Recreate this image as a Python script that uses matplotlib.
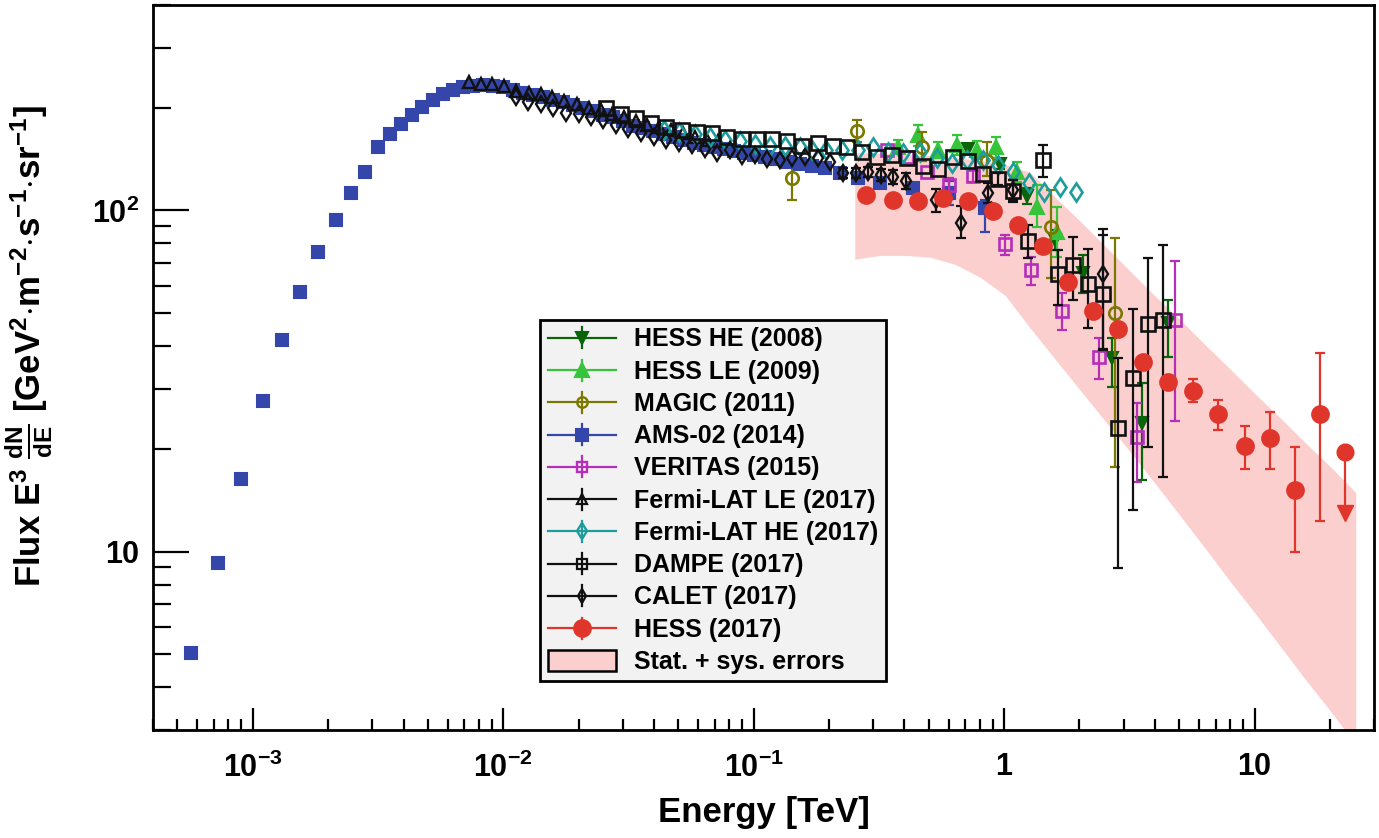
import numpy as np
import matplotlib
matplotlib.use('Agg')
import matplotlib.pyplot as plt
from matplotlib.lines import Line2D
from matplotlib.patches import Patch
from matplotlib.legend_handler import HandlerBase
from matplotlib.ticker import LogLocator, NullFormatter, FixedLocator, FixedFormatter

plt.rcParams['font.family'] = ['Liberation Sans', 'DejaVu Sans']
plt.rcParams['font.weight'] = 'bold'
plt.rcParams['mathtext.fontset'] = 'custom'
plt.rcParams['mathtext.rm'] = 'Liberation Sans:bold'
plt.rcParams['mathtext.it'] = 'Liberation Sans:bold'
plt.rcParams['mathtext.bf'] = 'Liberation Sans:bold'
plt.rcParams['mathtext.sf'] = 'Liberation Sans:bold'
plt.rcParams['mathtext.default'] = 'rm'

# ---------------- data (E in TeV, flux E^3 dN/dE in GeV^2 m^-2 s^-1 sr^-1) ----------------
x_ticks = [1e-3, 1e-2, 1e-1, 1, 10]
x_tick_labels = [r'$10^{-3}$', r'$10^{-2}$', r'$10^{-1}$', '1', '10']
y_ticks = [10, 100]
y_tick_labels = ['10', r'$10^{2}$']

band_E = [0.2535, 0.3192, 0.4018, 0.5058, 0.6368, 0.8017, 1.009, 1.271, 1.600, 2.014, 2.535,
          3.192, 4.018, 5.058, 6.368, 8.017, 10.09, 12.71, 16.00, 20.14, 25.35]
band_hi = [147.8, 146.8, 145.8, 144.9, 142.9, 140.1, 136.3, 129.2, 109.2, 92.9, 78.5,
           66.3, 56.0, 47.7, 40.3, 34.2, 28.9, 24.6, 20.8, 17.7, 14.9]
band_lo = [71.9, 73.8, 73.8, 72.9, 69.5, 63.7, 56.4, 45.2, 36.6, 29.7, 24.1,
           19.6, 15.8, 12.7, 10.2, 8.15, 6.57, 5.26, 4.21, 3.40, 2.72]

ams_E = [5.65e-4, 7.24e-4, 8.95e-4, 1.096e-3, 1.306e-3, 1.542e-3, 1.82e-3, 2.142e-3, 2.459e-3,
         2.812e-3, 3.153e-3, 3.522e-3, 3.918e-3, 4.312e-3, 4.754e-3, 5.248e-3, 5.77e-3, 6.31e-3,
         6.92e-3, 7.59e-3, 8.32e-3, 9.12e-3, 1.0e-2, 1.096e-2, 1.202e-2, 1.318e-2, 1.445e-2,
         1.585e-2, 1.738e-2, 1.905e-2, 2.089e-2, 2.291e-2, 2.512e-2, 2.754e-2, 3.02e-2, 3.311e-2,
         3.631e-2, 3.981e-2, 4.365e-2, 4.786e-2, 5.248e-2, 5.754e-2, 6.31e-2, 6.918e-2, 7.586e-2,
         8.318e-2, 9.12e-2, 0.1, 0.1107, 0.1225, 0.1368, 0.1528, 0.1706, 0.1923, 0.2208, 0.2606,
         0.3192, 0.4325, 0.6026, 0.8395]
ams_F = [5.05, 9.27, 16.3, 27.6, 41.7, 57.5, 75.4, 94.0, 112.7, 129.2, 152.9, 167.2, 179.4, 190.9,
         201.5, 211.3, 219.6, 225.6, 229.2, 232.1, 233.7, 232.1, 229.2, 226.0, 221.5, 218.5, 215.6,
         211.3, 207.1, 203.0, 198.9, 194.9, 190.9, 187.2, 182.2, 177.3, 173.8, 170.3, 166.9, 163.6,
         160.3, 157.1, 155.0, 152.9, 150.8, 148.8, 146.8, 144.9, 142.9, 141.0, 138.2, 136.3, 134.5,
         132.7, 128.3, 124.1, 120.0, 116.0, 112.1, 101.4]
ams_err_E = [0.6026, 0.8395]
ams_err_F = [112.1, 101.4]
ams_err_lo = [103.4, 86.2]
ams_err_hi = [121.6, 107.0]

fermi_le_E = [7.31e-3, 8.17e-3, 9.04e-3, 1.009e-2, 1.127e-2, 1.271e-2, 1.419e-2, 1.570e-2,
              1.754e-2, 1.977e-2, 2.208e-2, 2.466e-2, 2.729e-2, 3.048e-2, 3.404e-2, 3.767e-2,
              4.207e-2, 4.699e-2, 5.200e-2, 5.808e-2, 6.486e-2, 7.178e-2]
fermi_le_F = [238.5, 235.3, 235.3, 230.7, 224.5, 221.5, 220.0, 215.6, 209.8, 205.6, 200.2,
              196.2, 192.2, 187.2, 182.2, 178.5, 175.0, 171.5, 168.0, 164.6, 161.3, 159.2]

calet_E = [1.127e-2, 1.259e-2, 1.419e-2, 1.585e-2, 1.786e-2, 2.014e-2, 2.249e-2, 2.512e-2,
           2.831e-2, 3.162e-2, 3.565e-2, 4.018e-2, 4.487e-2, 5.012e-2, 5.649e-2, 6.368e-2,
           7.112e-2, 8.017e-2, 8.954e-2, 0.1009, 0.1127, 0.1271, 0.1419, 0.16, 0.1803, 0.2014,
           0.227, 0.2559, 0.2858, 0.3221, 0.3597, 0.4055, 0.5346, 0.673, 0.863, 1.086, 2.489]
calet_F = [215.6, 208.4, 205.6, 198.9, 193.5, 192.2, 188.4, 183.4, 178.5, 172.6, 168.0, 163.6,
           160.3, 157.1, 155.0, 151.8, 146.8, 149.8, 143.9, 144.9, 141.0, 140.1, 142.0, 142.9,
           142.0, 138.2, 128.3, 128.3, 129.2, 126.6, 124.9, 121.6, 107.0, 91.6, 112.1, 114.4, 65.0]
calet_lo = [None] * 26 + [124.1, 124.1, 124.9, 121.6, 119.2, 115.2, 98.7, 82.8, 104.8, 107.0, 38.9]
calet_hi = [None] * 26 + [132.7, 132.7, 133.6, 131.8, 130.9, 128.3, 115.2, 102.7, 120.0, 122.4, 84.5]

fermi_he_E = [4.406e-2, 5.058e-2, 5.808e-2, 6.668e-2, 7.656e-2, 8.790e-2, 0.1009, 0.1159, 0.1330,
              0.1528, 0.1706, 0.1941, 0.2249, 0.2606, 0.2992, 0.3436, 0.3945, 0.4613, 0.5395,
              0.6194, 0.7112, 0.8241, 0.9462, 1.086, 1.259, 1.445, 1.675, 1.941]
fermi_he_F = [171.5, 169.2, 166.9, 163.6, 161.3, 159.2, 156.0, 153.9, 153.9, 152.9, 149.8, 149.8,
              149.8, 149.8, 152.9, 147.8, 146.8, 147.8, 142.0, 137.3, 140.1, 140.1, 135.4, 129.2,
              120.0, 112.9, 116.8, 112.9]

dampe_E = [2.582e-2, 2.965e-2, 3.404e-2, 3.908e-2, 4.487e-2, 5.152e-2, 5.916e-2, 6.792e-2,
           7.798e-2, 8.954e-2, 0.1028, 0.1180, 0.1355, 0.1556, 0.1803, 0.2070, 0.2355, 0.2704,
           0.3105, 0.3565, 0.4093, 0.4742, 0.5445, 0.6252, 0.7178, 0.8241, 0.9462, 1.086, 1.247,
           1.432, 1.644, 1.888, 2.168, 2.489, 2.858, 3.281, 3.767, 4.325]
dampe_F = [198.9, 192.2, 185.9, 180.9, 175.0, 171.5, 169.2, 168.0, 164.6, 162.4, 162.4, 162.4,
           159.2, 153.9, 157.1, 153.9, 152.9, 147.8, 142.9, 144.9, 142.0, 134.5, 131.8, 142.9,
           139.1, 127.5, 123.2, 113.7, 81.2, 140.1, 65.0, 69.0, 60.7, 56.8, 23.0, 32.2, 46.4, 47.7]
dampe_lo = [None] * 26 + [118.4, 105.5, 72.4, 124.9, 52.7, 54.5, 45.2, 39.2, 8.96, 13.2, 20.2, 16.5]
dampe_hi = [None] * 26 + [128.3, 122.4, 90.4, 155.0, 76.4, 83.4, 76.9, 88.0, 36.9, 51.3, 72.4, 79.0]

hess_he_E = [0.7178, 0.9638, 1.236, 1.600, 2.070, 2.704, 3.565, 4.529]
hess_he_F = [150.8, 136.3, 109.9, 81.7, 65.4, 36.9, 23.8, 46.7]
hess_he_lo = [145.8, 131.8, 104.1, 76.4, 57.2, 30.3, 16.2, 37.1]
hess_he_hi = [156.0, 141.0, 116.0, 87.4, 73.8, 42.2, 31.2, 54.5]

hess_le_E = [0.3767, 0.4529, 0.5445, 0.6486, 0.7798, 0.9290, 1.127, 1.355, 1.629]
hess_le_F = [152.9, 165.8, 149.8, 155.0, 149.8, 152.9, 129.2, 102.0, 86.2]
hess_le_lo = [145.8, 153.9, 142.0, 144.9, 141.0, 142.0, 120.8, 89.2, 72.9]
hess_le_hi = [160.3, 178.5, 158.1, 165.8, 159.2, 164.6, 138.2, 118.4, 102.0]

magic_E = [0.1419, 0.2582, 0.4699, 0.8551, 1.542, 2.780]
magic_F = [124.1, 170.3, 152.9, 139.1, 89.2, 49.9]
magic_lo = [107.0, 158.1, 139.1, 125.8, 63.2, 17.7]
magic_hi = [133.6, 184.6, 169.2, 158.1, 114.4, 82.8]

veritas_E = [0.3404, 0.4093, 0.4920, 0.6026, 0.7516, 1.009, 1.282, 1.706, 2.399, 3.404, 4.831]
veritas_F = [149.8, 142.9, 129.2, 118.4, 125.8, 79.5, 66.8, 50.6, 37.1, 21.7, 47.7]
veritas_lo = [None, None, None, 112.9, 120.8, 73.8, 60.3, 44.6, 32.0, 16.0, 24.1]
veritas_hi = [None, None, None, 124.1, 130.9, 84.5, 72.9, 57.2, 42.2, 27.2, 70.9]

hess_E = [0.2805, 0.3597, 0.4529, 0.5702, 0.7178, 0.9036, 1.138, 1.432, 1.803, 2.270, 2.858,
          3.597, 4.529, 5.702, 7.178, 9.12, 11.48, 14.45, 18.20]
hess_F = [110.6, 107.0, 106.3, 108.4, 106.3, 99.3, 90.4, 78.5, 61.6, 50.6, 44.9, 35.9, 31.4,
          29.5, 25.3, 20.4, 21.5, 15.2, 25.3]
hess_lo = [None] * 13 + [27.4, 22.7, 17.5, 17.4, 10.0, 12.3]
hess_hi = [None] * 13 + [32.0, 27.8, 23.3, 25.6, 20.2, 38.2]
hess_ul_E = [22.91]
hess_ul_F = [19.6]
hess_ul_end = [13.0]

labels = ['HESS HE (2008)', 'HESS LE (2009)', 'MAGIC (2011)', 'AMS-02 (2014)', 'VERITAS (2015)',
          'Fermi-LAT LE (2017)', 'Fermi-LAT HE (2017)', 'DAMPE (2017)', 'CALET (2017)',
          'HESS (2017)', 'Stat. + sys. errors']

# ---------------- styles ----------------
C_HESSHE = '#0a640a'
C_HESSLE = '#36c43a'
C_MAGIC = '#7a7800'
C_AMS = '#3446a9'
C_VER = '#b52fb8'
C_BLACK = '#111111'
C_FHE = '#1d9c9c'
C_HESS = '#e0352b'
C_BAND = '#fccfcf'

fig = plt.figure(figsize=(13.79, 8.38), dpi=100)
ax = fig.add_axes([0.111, 0.1289, 0.8854, 0.8652])
ax.set_xscale('log')
ax.set_yscale('log')
ax.set_xlim(4e-4, 30)
ax.set_ylim(3, 400)

ax.fill_between(band_E, band_lo, band_hi, color=C_BAND, lw=0, zorder=1)


def draw(E, F, lo, hi, marker, ms, color, filled, z, mew=1.5):
    E = np.asarray(E, dtype=float)
    F = np.asarray(F, dtype=float)
    if lo is not None:
        lo = np.array(lo, dtype=float)
        hi = np.array(hi, dtype=float)
        m = ~np.isnan(lo)
        yerr = np.vstack([F[m] - lo[m], hi[m] - F[m]])
        ax.errorbar(E[m], F[m], yerr=yerr, fmt='none', ecolor=color, elinewidth=1.6,
                    capsize=3.5, capthick=1.6, zorder=z)
    ax.plot(E, F, ls='none', marker=marker, ms=ms, mfc=color if filled else 'none',
            mec=color, mew=mew, zorder=z + 0.1)


draw(hess_he_E, hess_he_F, hess_he_lo, hess_he_hi, 'v', 9, C_HESSHE, True, 3)
draw(hess_le_E, hess_le_F, hess_le_lo, hess_le_hi, '^', 9.5, C_HESSLE, True, 4)
draw(magic_E, magic_F, magic_lo, magic_hi, 'o', 9, C_MAGIC, False, 5, mew=1.9)
draw(ams_err_E, ams_err_F, ams_err_lo, ams_err_hi, 's', 8.8, C_AMS, True, 6)
draw(ams_E, ams_F, None, None, 's', 8.8, C_AMS, True, 6)
draw(veritas_E, veritas_F, veritas_lo, veritas_hi, 's', 8.8, C_VER, False, 7, mew=1.9)
draw(fermi_le_E, fermi_le_F, None, None, '^', 9, C_BLACK, False, 8, mew=1.7)
draw(fermi_he_E, fermi_he_F, None, None, 'd', 9.5, C_FHE, False, 9, mew=1.9)
draw(dampe_E, dampe_F, dampe_lo, dampe_hi, 's', 10, C_BLACK, False, 10, mew=1.9)
draw(calet_E, calet_F, calet_lo, calet_hi, 'd', 8.5, C_BLACK, False, 11, mew=1.7)
draw(hess_E, hess_F, hess_lo, hess_hi, 'o', 12, C_HESS, True, 12)
# upper limit
ax.vlines(hess_ul_E, hess_ul_end, hess_ul_F, color=C_HESS, lw=1.6, zorder=12)
ax.plot(hess_ul_E, hess_ul_F, ls='none', marker='o', ms=12, color=C_HESS, zorder=12.1)
ax.plot(hess_ul_E, hess_ul_end, ls='none', marker='v', ms=11, color=C_HESS, zorder=12.1)

# ---------------- axes styling ----------------
ax.xaxis.set_major_locator(FixedLocator(x_ticks))
ax.xaxis.set_major_formatter(FixedFormatter(x_tick_labels))
ax.xaxis.set_minor_locator(LogLocator(base=10, subs=np.arange(2, 10), numticks=20))
ax.xaxis.set_minor_formatter(NullFormatter())
ax.yaxis.set_major_locator(FixedLocator(y_ticks))
ax.yaxis.set_major_formatter(FixedFormatter(y_tick_labels))
ax.yaxis.set_minor_locator(LogLocator(base=10, subs=np.arange(2, 10), numticks=20))
ax.yaxis.set_minor_formatter(NullFormatter())

ax.tick_params(axis='x', which='major', direction='in', length=16, width=1.6, top=False,
               labelsize=22, pad=16)
ax.tick_params(axis='x', which='minor', direction='in', length=8, width=1.6, top=False)
ax.tick_params(axis='y', which='major', direction='in', length=26, width=1.6, right=False,
               labelsize=22, pad=10)
ax.tick_params(axis='y', which='minor', direction='in', length=13, width=1.6, right=False)
for t in ax.yaxis.get_major_ticks():
    if t.get_loc() > 50:
        t.set_pad(15)

for s in ax.spines.values():
    s.set_linewidth(2.0)
    s.set_color('black')

ax.set_xlabel('Energy [TeV]', fontsize=25, fontweight='bold')
ax.xaxis.set_label_coords(0.5, -0.091)
ax.set_ylabel(r'Flux E$^{3}$ $\frac{dN}{dE}$ [GeV$^{2}$$\cdot$m$^{-2}$$\cdot$s$^{-1}$$\cdot$sr$^{-1}$]',
              fontsize=25, fontweight='bold')
ax.yaxis.set_label_coords(-0.08, 0.53)


# ---------------- legend ----------------
class LEP:
    def __init__(self, color, marker, ms, filled, mew=1.5):
        self.color = color
        self.marker = marker
        self.ms = ms
        self.filled = filled
        self.mew = mew


class HandlerLEP(HandlerBase):
    def create_artists(self, legend, h, xdescent, ydescent, width, height, fontsize, trans):
        y = height / 2 - ydescent
        x0, x1 = -xdescent, width - xdescent
        xc = 0.5 * (x0 + x1)
        line = Line2D([x0, x1], [y, y], color=h.color, lw=1.6, transform=trans)
        bar = Line2D([xc, xc], [y - 7.5, y + 7.5], color=h.color, lw=1.6, transform=trans)
        mk = Line2D([xc], [y], ls='none', marker=h.marker, ms=h.ms, mec=h.color, mew=h.mew,
                    mfc=h.color if h.filled else 'none', transform=trans)
        return [line, bar, mk]


handles = [
    LEP(C_HESSHE, 'v', 9, True),
    LEP(C_HESSLE, '^', 9.5, True),
    LEP(C_MAGIC, 'o', 7.5, False, 1.7),
    LEP(C_AMS, 's', 9, True),
    LEP(C_VER, 's', 7, False, 1.7),
    LEP(C_BLACK, '^', 7.5, False, 1.6),
    LEP(C_FHE, 'd', 8, False, 1.7),
    LEP(C_BLACK, 's', 7, False, 1.6),
    LEP(C_BLACK, 'd', 7.5, False, 1.6),
    LEP(C_HESS, 'o', 12, True),
    Patch(facecolor=C_BAND, edgecolor='black', linewidth=1.8),
]
leg = ax.legend(handles, labels, loc='upper left', bbox_to_anchor=(0.317, 0.5655),
                borderaxespad=0, fontsize=18, frameon=True, fancybox=False,
                edgecolor='black', facecolor='#f2f2f2', framealpha=1,
                handlelength=2.75, handleheight=0.9, handletextpad=0.72, labelspacing=0.33,
                borderpad=0.3, handler_map={LEP: HandlerLEP()})
leg.get_frame().set_linewidth(2.0)
leg.set_zorder(20)

fig.savefig('out.png', dpi=100)
